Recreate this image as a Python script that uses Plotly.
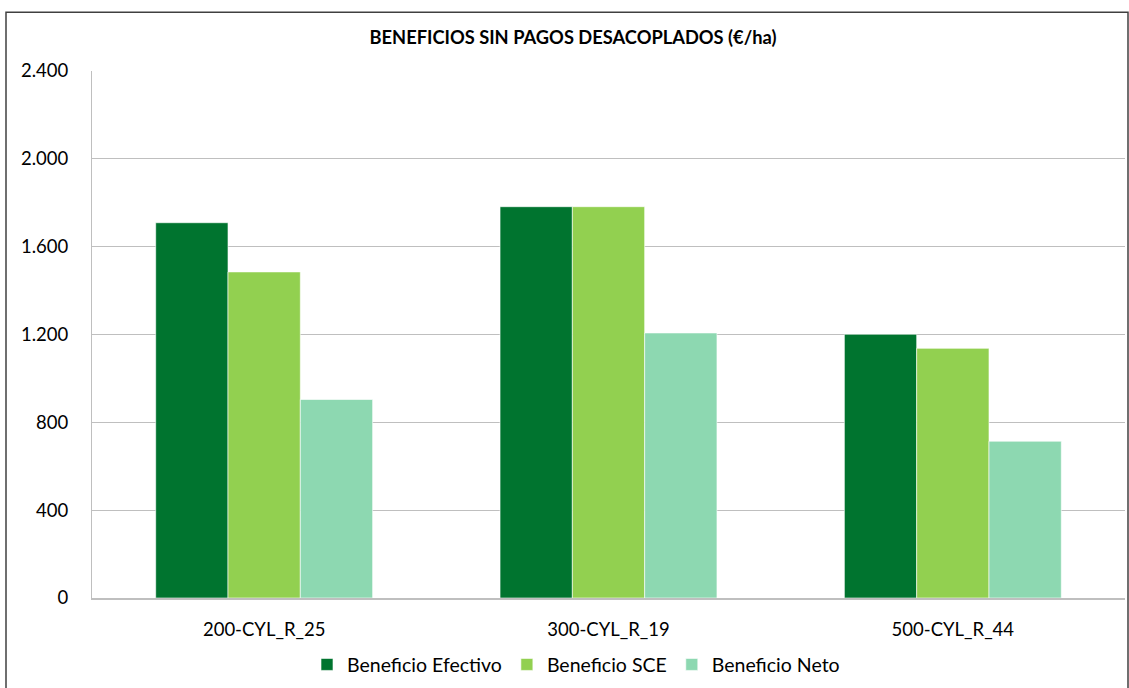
import plotly.graph_objects as go

categories = ["200-CYL_R_25", "300-CYL_R_19", "500-CYL_R_44"]
series_names = ["Beneficio Efectivo", "Beneficio SCE", "Beneficio Neto"]
efectivo = [1709, 1782, 1201]
sce = [1485, 1782, 1137]
neto = [904, 1207, 714]
colors = ["#00742F", "#92D050", "#8DD8B1"]
y_ticks = [0, 400, 800, 1200, 1600, 2000, 2400]

FONT = "Lato, 'Open Sans', sans-serif"

fig = go.Figure()
for name, vals, col in zip(series_names, [efectivo, sce, neto], colors):
    fig.add_trace(go.Bar(
        x=categories, y=vals, name=name,
        marker=dict(color=col, line=dict(color="rgba(255,255,255,0.6)", width=1)),
    ))

W, H = 1129, 688
L, R, T, B = 92, 4, 71, 88
pw, ph = W - L - R, H - T - B

def px(xp):
    return (xp - L) / pw

def py(yp):
    return (H - B - yp) / ph

fig.update_layout(
    width=W, height=H,
    margin=dict(l=L, r=R, t=T, b=B),
    paper_bgcolor="white", plot_bgcolor="white",
    separators=",.",
    barmode="group", bargap=0.37, bargroupgap=0,
    font=dict(family=FONT, size=18, color="#000000"),
    title=dict(text="<b>BENEFICIOS SIN PAGOS DESACOPLADOS (€/ha)</b>",
               x=px(573), xref="paper", xanchor="center",
               y=1 - 38 / H, yref="container", yanchor="middle",
               font=dict(family=FONT, size=18.3, color="#000000")),
    showlegend=True,
    legend=dict(orientation="h", x=px(576), xanchor="center",
                y=py(667), yanchor="middle",
                font=dict(family=FONT, size=19.5, color="#000000"),
                itemwidth=30, traceorder="normal", bgcolor="rgba(0,0,0,0)"),
    shapes=[dict(type="rect", xref="paper", yref="paper",
                 x0=px(6), x1=px(1128), y0=py(695), y1=py(12),
                 line=dict(color="#404040", width=1.5), fillcolor="rgba(0,0,0,0)",
                 layer="below")],
)
fig.update_yaxes(range=[0, 2400], tickvals=y_ticks, tickformat=",d",
                 showgrid=True, gridcolor="#BFBFBF", gridwidth=1,
                 showline=True, linecolor="#BFBFBF", linewidth=1,
                 ticks="", ticklabelstandoff=19, zeroline=False,
                 tickfont=dict(family=FONT, size=18.5, color="#000000"))
fig.update_xaxes(showline=True, linecolor="#BFBFBF", linewidth=1.5,
                 ticks="", ticklabelstandoff=14,
                 tickfont=dict(family=FONT, size=18.5, color="#000000"))

fig.write_html("out.html", config={"displayModeBar": False},
               post_script="document.body.style.margin='0';document.body.style.overflow='hidden';")
